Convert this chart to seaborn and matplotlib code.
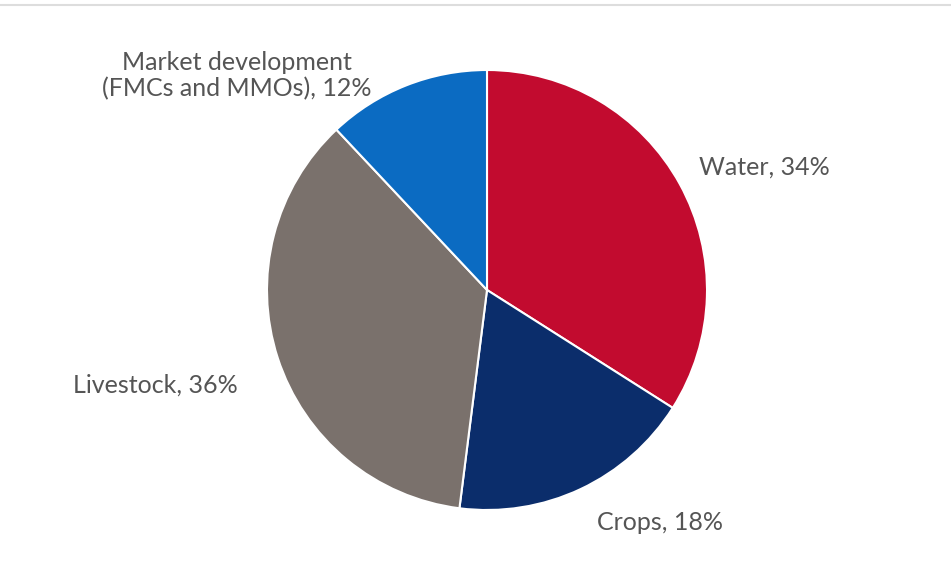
import numpy as np
import matplotlib.pyplot as plt
import seaborn as sns

# data
categories = ["Water", "Crops", "Livestock", "Market development\n(FMCs and MMOs)"]
shares = [34, 18, 36, 12]
colors = ["#C20B2F", "#0B2D6B", "#7A716C", "#0B6BC2"]

sns.set_theme(style="white")
plt.rcParams['font.family'] = ['Lato', 'DejaVu Sans']

fig = plt.figure(figsize=(9.51, 5.75), dpi=100)
fig.patch.set_facecolor("white")
# thin grey rule at the top
fig.add_artist(plt.Line2D([0, 1], [0.992, 0.992], color="#DDDDDD", lw=1.5))

ax = fig.add_axes([267 / 951, 65 / 575, 440 / 951, 440 / 575])
wedges, _ = ax.pie(shares, colors=colors, startangle=90, counterclock=False,
                   radius=1, wedgeprops=dict(edgecolor="white", linewidth=1.5))
ax.set_xlim(-1, 1)
ax.set_ylim(-1, 1)
ax.set_aspect("equal")

# label placement (distance from centre plus small nudges)
label_r = [1.1, 1.17, 1.2, 1.1]
label_shift = [(0.0, 0.03), (0.0, 0.0), (0.01, -0.06), (-0.12, -0.05)]
for w, cat, val, r, (sx, sy) in zip(wedges, categories, shares, label_r, label_shift):
    ang = np.deg2rad((w.theta1 + w.theta2) / 2)
    x, y = r * np.cos(ang) + sx, r * np.sin(ang) + sy
    ha = "left" if x > 0 else "right"
    ax.text(x, y, f"{cat}, {val}%", ha=ha, va="center", fontsize=18,
            color="#555555", multialignment="center", linespacing=1.15,
            clip_on=False)

fig.savefig("out.png", dpi=100, facecolor="white")
